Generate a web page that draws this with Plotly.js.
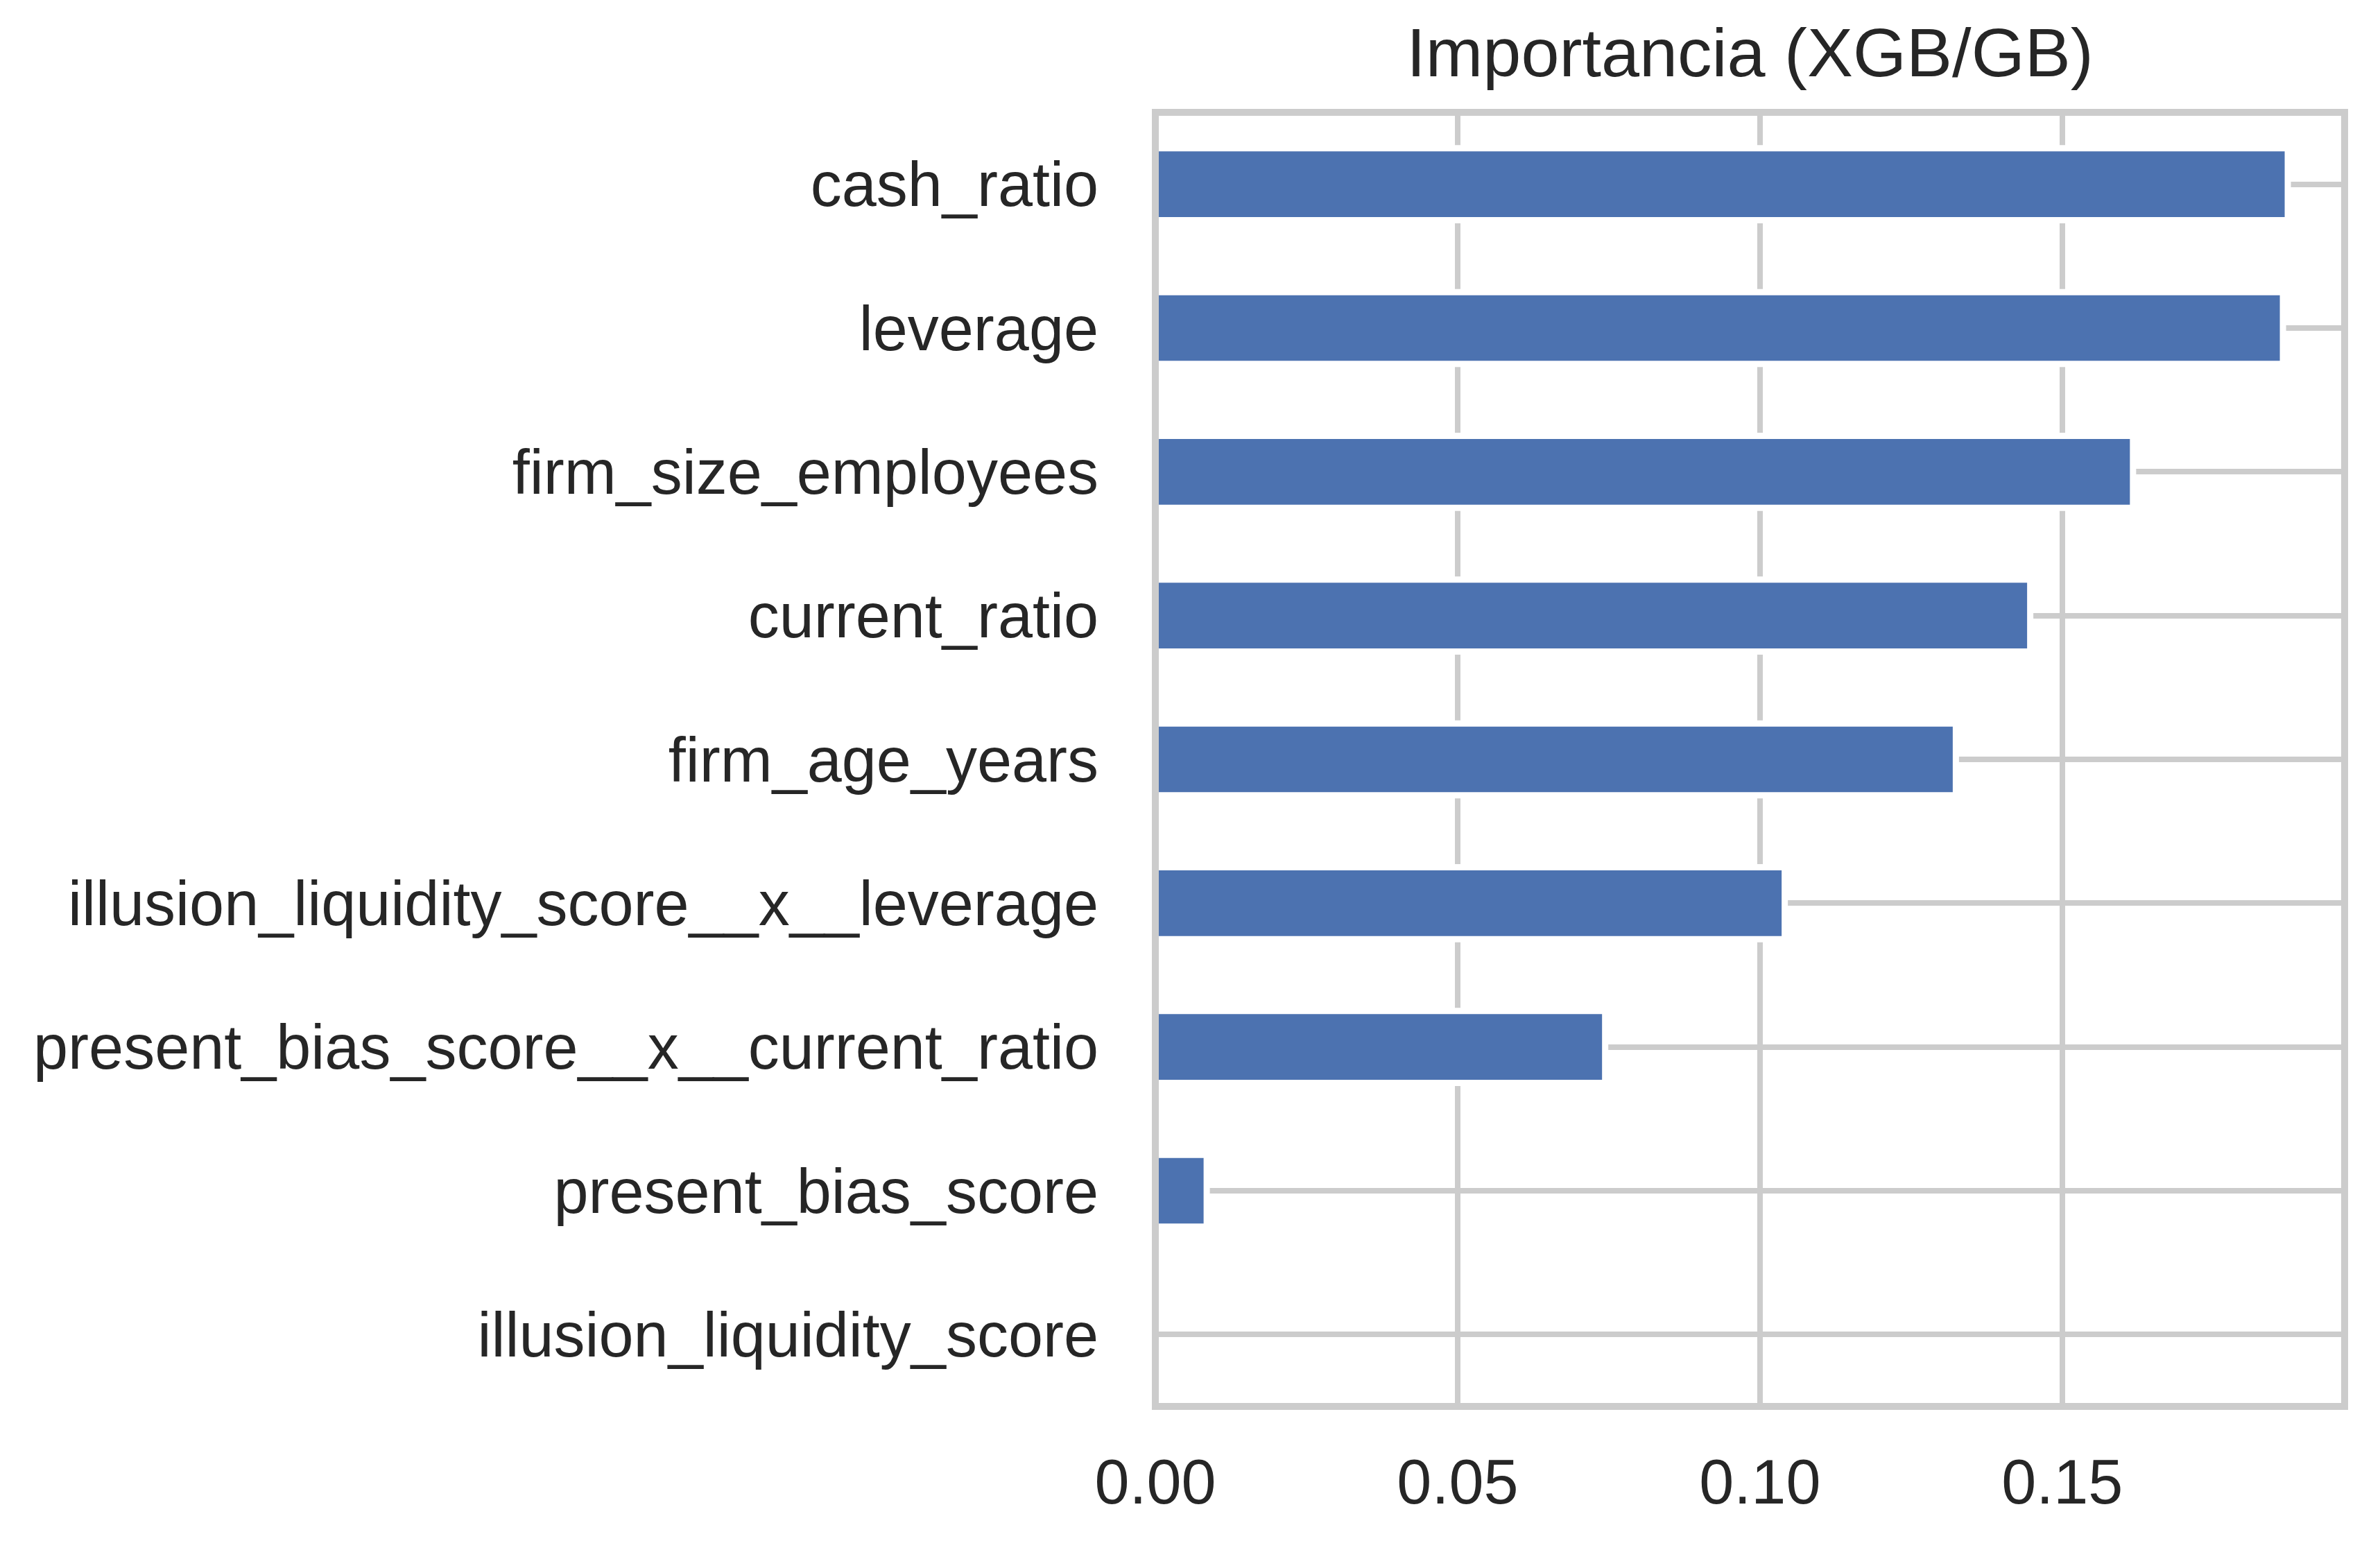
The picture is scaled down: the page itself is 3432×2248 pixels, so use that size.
<!DOCTYPE html>
<html>
<head>
<meta charset="utf-8">
<script src="https://cdn.plot.ly/plotly-3.0.1.min.js"></script>
<style>html,body{margin:0;padding:0;background:#fff;}#chart{width:3432px;height:2248px;}</style>
</head>
<body>
<div id="chart"></div>
<script>
const features = [
  "cash_ratio",
  "leverage",
  "firm_size_employees",
  "current_ratio",
  "firm_age_years",
  "illusion_liquidity_score__x__leverage",
  "present_bias_score__x__current_ratio",
  "present_bias_score",
  "illusion_liquidity_score"
];
const importance = [0.1873, 0.1865, 0.1617, 0.1447, 0.1324, 0.1041, 0.0744, 0.0085, 0.0];
const xTickVals = [0, 0.05, 0.10, 0.15];
const xTickText = ["0.00", "0.05", "0.10", "0.15"];
const titleText = "Importancia (XGB/GB)";

const fontFamily = "'Liberation Sans', Arial, 'DejaVu Sans', sans-serif";
const textColor = "#262626";
const gridColor = "#cccccc";

const trace = {
  type: "bar",
  orientation: "h",
  y: features,
  x: importance,
  width: 0.5,
  marker: { color: "#4c72b0", line: { color: "#ffffff", width: 9 } },
  hoverinfo: "x+y"
};

const layout = {
  width: 3432,
  height: 2248,
  paper_bgcolor: "#ffffff",
  plot_bgcolor: "#ffffff",
  margin: { l: 1666, r: 51, t: 162, b: 220, pad: 0 },
  showlegend: false,
  font: { family: fontFamily, color: textColor, size: 90 },
  title: {
    text: titleText,
    font: { family: fontFamily, color: textColor, size: 99 },
    x: 0.5, xref: "paper", xanchor: "center",
    y: 1 - 110 / 2248, yref: "container", yanchor: "bottom"
  },
  xaxis: {
    range: [0, 0.1967],
    tickmode: "array",
    tickvals: xTickVals,
    ticktext: xTickText,
    showgrid: true,
    gridcolor: gridColor,
    gridwidth: 8,
    zeroline: false,
    showline: false,
    ticks: "",
    ticklabelstandoff: 49,
    tickfont: { family: fontFamily, color: textColor, size: 90 }
  },
  yaxis: {
    type: "category",
    categoryorder: "array",
    categoryarray: features,
    range: [8.5, -0.5],
    showgrid: true,
    gridcolor: gridColor,
    gridwidth: 8,
    zeroline: false,
    showline: false,
    ticks: "",
    ticklabelstandoff: 81,
    tickfont: { family: fontFamily, color: textColor, size: 90 }
  },
  shapes: [{
    type: "rect", xref: "paper", yref: "paper",
    x0: 0, x1: 1, y0: 0, y1: 1,
    line: { color: gridColor, width: 10 },
    fillcolor: "rgba(0,0,0,0)",
    layer: "above"
  }]
};

Plotly.newPlot("chart", [trace], layout, { displayModeBar: false, staticPlot: true });
</script>
</body>
</html>
